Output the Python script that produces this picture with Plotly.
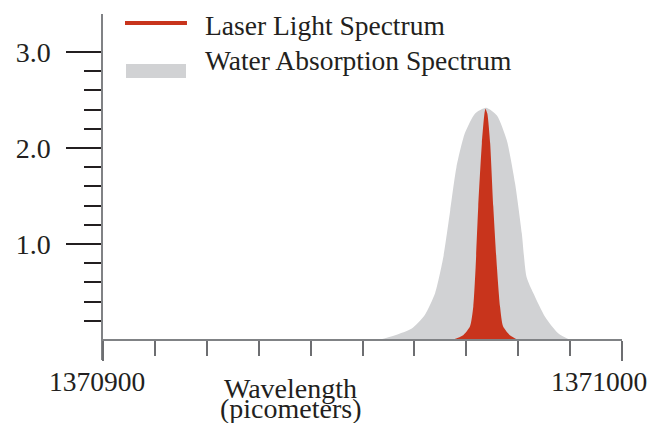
import plotly.graph_objects as go

# ---- data ----
water_x = [1370953.0, 1370956.3, 1370959.5, 1370962.0, 1370964.0, 1370965.6, 1370966.9,
           1370968.1, 1370969.7, 1370971.7, 1370973.8, 1370975.9, 1370977.8, 1370979.4,
           1370980.7, 1370981.6, 1370982.9, 1370985.2, 1370987.7, 1370990.0]
water_y = [0.0, 0.05, 0.12, 0.26, 0.49, 0.87, 1.35, 1.80, 2.15, 2.36, 2.42, 2.34, 2.08, 1.63,
           1.11, 0.66, 0.49, 0.24, 0.07, 0.0]

laser_x = [1370967.2, 1370969.4, 1370970.7, 1370971.35, 1370971.8, 1370972.3, 1370973.0,
           1370973.5, 1370973.7, 1370974.05, 1370974.6, 1370975.2, 1370975.9, 1370976.5,
           1370977.1, 1370978.4, 1370980.0]
laser_y = [0.0, 0.05, 0.14, 0.35, 0.76, 1.39, 2.05, 2.36, 2.41, 2.36, 2.05, 1.39, 0.76, 0.35,
           0.14, 0.05, 0.0]

series_names = ["Laser Light Spectrum", "Water Absorption Spectrum"]
x_major_ticks = [1370900, 1371000]
x_major_labels = ["1370900", "1371000"]
x_minor_ticks = [1370910, 1370920, 1370930, 1370940, 1370950, 1370960, 1370970, 1370980, 1370990]
y_major_ticks = [1, 2, 3]
y_major_labels = ["1.0", "2.0", "3.0"]
y_minor_ticks = [0.2, 0.4, 0.6, 0.8, 1.2, 1.4, 1.6, 1.8, 2.2, 2.4, 2.6, 2.8]
x_title_lines = ["Wavelength", "(picometers)"]

RED = "#C8341C"
GRAY = "#D1D2D4"
TXT = "#231F20"
FONT = "Liberation Serif"

fig = go.Figure()
fig.add_trace(go.Scatter(x=water_x, y=water_y, mode="lines", line=dict(width=0, shape="spline", smoothing=0.6),
                         fill="tozeroy", fillcolor=GRAY, name=series_names[1], showlegend=False,
                         hoverinfo="skip"))
fig.add_trace(go.Scatter(x=laser_x, y=laser_y, mode="lines", line=dict(width=0, shape="spline", smoothing=0.6),
                         fill="tozeroy", fillcolor=RED, name=series_names[0], showlegend=False,
                         hoverinfo="skip"))

y_lo, y_hi = -0.208, 3.396
x_pos = (0 - y_lo) / (y_hi - y_lo)

fig.update_layout(
    width=649, height=415,
    margin=dict(l=95, r=35, t=6, b=63),
    paper_bgcolor="white", plot_bgcolor="white",
    font=dict(family=FONT, color=TXT, size=27),
    xaxis=dict(range=[x_major_ticks[0], x_major_ticks[1]], anchor="free", position=x_pos,
               showline=True, linecolor="#808285", linewidth=1.5, showgrid=False, zeroline=False,
               tickmode="array", tickvals=x_major_ticks, ticks="outside", ticklen=20,
               tickcolor="#6D6E71", tickwidth=1.5, showticklabels=False,
               minor=dict(tickmode="array", tickvals=x_minor_ticks, ticks="outside", ticklen=15,
                          tickcolor="#6D6E71", tickwidth=1.5, showgrid=False)),
    yaxis=dict(range=[y_lo, y_hi], showline=True, linecolor="#808285", linewidth=1.5,
               showgrid=False, zeroline=False,
               tickmode="array", tickvals=y_major_ticks, ticktext=y_major_labels,
               ticks="outside", ticklen=35, tickcolor=TXT, tickwidth=1.5,
               ticklabelstandoff=10, tickfont=dict(size=28, family=FONT, color=TXT),
               minor=dict(tickmode="array", tickvals=y_minor_ticks, ticks="outside", ticklen=17,
                          tickcolor=TXT, tickwidth=1.5, showgrid=False)),
)

# x tick labels
for v, lab, anc, sh in zip(x_major_ticks, x_major_labels, ["center", "right"], [-6, 27]):
    fig.add_annotation(x=v, xref="x", y=0, yref="paper", text=lab, showarrow=False,
                       xanchor=anc, yanchor="middle", xshift=sh, yshift=-21,
                       font=dict(size=27.5, family=FONT, color=TXT))

# axis title (two lines)
for line, ys in zip(x_title_lines, [-28, -48]):
    fig.add_annotation(x=0.362, xref="paper", y=0, yref="paper", text=line, showarrow=False,
                       xanchor="center", yanchor="middle", yshift=ys,
                       font=dict(size=28, family=FONT, color=TXT))

# legend (manual)
fig.add_shape(type="line", xref="paper", yref="paper", x0=0.0424, x1=0.1618, y0=0.974, y1=0.974,
              line=dict(color=RED, width=4))
fig.add_shape(type="rect", xref="paper", yref="paper", x0=0.0443, x1=0.1599, y0=0.815, y1=0.8555,
              line=dict(width=0), fillcolor=GRAY)
for name, yp in zip(series_names, [0.968, 0.865]):
    fig.add_annotation(x=0.1927, xref="paper", y=yp, yref="paper", text=name, showarrow=False,
                       xanchor="left", yanchor="middle",
                       font=dict(size=27.5, family=FONT, color=TXT))

fig.write_html("out.html")
